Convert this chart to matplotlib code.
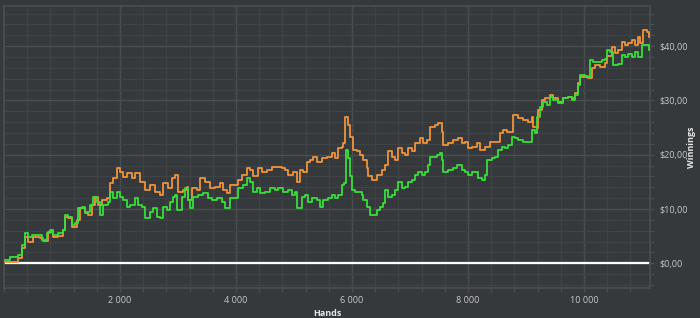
import matplotlib
matplotlib.use("Agg")
import matplotlib.pyplot as plt
from matplotlib.ticker import FixedLocator, FuncFormatter, MultipleLocator

orange_hands = [17, 155, 241, 310, 362, 414, 500, 621, 672, 759, 845, 931, 1017, 1052, 1103, 1172, 1259, 1310, 1397, 1448,
                1517, 1569, 1621, 1690, 1776, 1828, 1879, 1948, 2000, 2052, 2121, 2207, 2259, 2345, 2431, 2517, 2603, 2690,
                2741, 2828, 2897, 2948, 3000, 3086, 3155, 3172, 3241, 3328, 3379, 3466, 3552, 3638, 3724, 3776, 3845, 3897,
                3983, 4034, 4103, 4190, 4241, 4293, 4379, 4448, 4534, 4621, 4707, 4793, 4845, 4897, 4983, 5052, 5103, 5155,
                5224, 5276, 5328, 5397, 5483, 5569, 5655, 5707, 5759, 5828, 5845, 5879, 5931, 5966, 6017, 6086, 6138, 6190,
                6259, 6276, 6345, 6431, 6517, 6569, 6621, 6690, 6741, 6793, 6862, 6914, 6966, 7034, 7086, 7172, 7224, 7293,
                7345, 7431, 7483, 7552, 7569, 7655, 7741, 7828, 7897, 7948, 8000, 8069, 8155, 8207, 8293, 8379, 8500, 8552,
                8603, 8672, 8776, 8862, 8948, 9034, 9103, 9121, 9190, 9207, 9276, 9328, 9414, 9466, 9552, 9638, 9724, 9793,
                9845, 9897, 9931, 10017, 10069, 10138, 10190, 10276, 10362, 10397, 10483, 10534, 10586, 10655, 10707, 10759,
                10828, 10879, 10931, 10966, 11017, 11086, 11121]
orange_won = [0.3, 0.3, 1.0, 2.8, 4.9, 4.0, 4.9, 4.7, 4.1, 5.8, 4.9, 5.0, 6.1, 8.6, 8.3, 6.7, 8.0, 10.2, 9.3, 8.9,
              10.7, 12.3, 10.7, 11.7, 12.0, 14.8, 15.7, 17.5, 16.9, 15.9, 16.6, 15.7, 16.6, 15.0, 13.5, 14.4, 13.2, 12.6,
              14.8, 13.9, 15.7, 16.3, 13.2, 13.5, 14.1, 11.7, 13.9, 13.5, 15.7, 15.0, 13.9, 14.1, 14.8, 13.5, 12.9, 14.4,
              14.4, 15.3, 16.3, 17.5, 17.2, 16.0, 17.5, 16.9, 17.2, 17.8, 17.8, 17.5, 17.2, 16.3, 16.9, 15.0, 17.2, 16.9,
              18.7, 19.0, 19.6, 18.7, 19.4, 19.6, 20.3, 19.4, 21.2, 21.5, 22.1, 27.0, 25.5, 23.3, 20.9, 20.6, 19.9, 19.0,
              17.5, 16.0, 15.3, 16.3, 17.2, 18.1, 20.6, 19.6, 19.0, 21.2, 20.3, 19.9, 21.2, 20.6, 22.1, 23.0, 22.1, 22.7,
              25.1, 25.5, 25.8, 24.2, 21.8, 22.1, 22.7, 23.0, 22.1, 22.4, 21.2, 21.5, 22.1, 20.9, 21.5, 22.4, 22.4, 24.0,
              24.5, 24.2, 27.3, 26.7, 26.4, 26.1, 27.0, 25.2, 24.9, 28.2, 30.1, 30.4, 31.0, 30.4, 29.8, 30.4, 30.7, 30.4,
              31.3, 33.2, 34.4, 34.4, 34.1, 36.0, 36.5, 36.2, 36.9, 38.1, 39.9, 38.7, 39.3, 40.8, 40.2, 40.6,
              41.1, 40.2, 41.7, 40.6, 43.0, 42.6, 41.7]

green_hands = [17, 103, 190, 241, 310, 362, 414, 483, 569, 655, 741, 793, 845, 931, 1017, 1052, 1103, 1172, 1224, 1276,
               1345, 1397, 1483, 1534, 1603, 1655, 1707, 1793, 1828, 1879, 1948, 2000, 2052, 2121, 2172, 2259, 2310, 2379,
               2431, 2517, 2569, 2638, 2690, 2741, 2810, 2862, 2914, 2948, 2983, 3069, 3121, 3172, 3207, 3259, 3345, 3431,
               3517, 3586, 3672, 3759, 3810, 3897, 3983, 4034, 4121, 4190, 4241, 4293, 4362, 4414, 4500, 4586, 4672, 4724,
               4810, 4897, 4966, 5017, 5052, 5138, 5190, 5241, 5310, 5397, 5448, 5500, 5586, 5655, 5707, 5759, 5828, 5862,
               5897, 5931, 5966, 6000, 6052, 6103, 6172, 6190, 6259, 6310, 6362, 6431, 6483, 6534, 6569, 6621, 6690, 6741,
               6793, 6862, 6914, 6966, 7034, 7086, 7138, 7207, 7259, 7310, 7345, 7397, 7466, 7517, 7552, 7569, 7655, 7741,
               7810, 7897, 7948, 8000, 8069, 8121, 8172, 8241, 8293, 8328, 8414, 8466, 8517, 8586, 8638, 8690, 8759, 8810,
               8862, 8948, 9034, 9103, 9155, 9190, 9241, 9293, 9362, 9414, 9466, 9552, 9638, 9724, 9793, 9845, 9897, 9931,
               10017, 10069, 10103, 10155, 10224, 10310, 10362, 10397, 10448, 10500, 10586, 10655, 10707, 10759, 10828,
               10879, 10931, 11000, 11086, 11121]
green_won = [0.6, 1.2, 1.2, 1.5, 3.4, 5.6, 4.9, 5.2, 5.2, 4.3, 5.6, 6.1, 5.2, 5.6, 6.1, 8.9, 8.6, 7.1, 7.4, 10.2,
             10.4, 9.5, 10.7, 12.3, 11.3, 8.9, 10.7, 11.3, 13.2, 12.0, 13.2, 12.3, 11.7, 10.4, 10.7, 12.0, 10.7, 10.4,
             8.3, 9.5, 10.2, 8.6, 8.3, 10.4, 9.8, 11.3, 12.3, 12.6, 9.8, 12.3, 13.9, 11.7, 10.2, 12.3, 12.6, 12.9,
             12.0, 11.7, 12.0, 11.3, 10.2, 12.0, 12.0, 13.9, 14.4, 15.7, 15.0, 13.2, 13.9, 12.9, 13.2, 13.9, 13.5, 13.9,
             13.2, 13.5, 12.6, 13.2, 10.2, 12.3, 12.6, 11.3, 12.0, 11.7, 10.4, 11.7, 12.0, 12.6, 12.0, 12.6, 14.4, 14.8,
             20.9, 19.4, 16.0, 13.5, 13.2, 13.2, 12.6, 11.7, 10.4, 8.9, 8.9, 9.8, 10.4, 11.1, 13.5, 12.3, 12.6, 13.5,
             15.0, 13.9, 14.1, 15.0, 15.3, 16.3, 16.9, 16.3, 16.9, 18.1, 19.6, 19.6, 19.9, 20.3, 19.0, 16.9, 17.2, 17.5,
             18.1, 17.2, 16.9, 16.3, 16.9, 16.9, 15.7, 15.3, 16.3, 19.0, 19.4, 19.6, 20.9, 21.5, 21.2, 21.8, 23.3, 23.1,
             22.7, 22.4, 22.4, 24.5, 24.0, 27.0, 28.8, 29.8, 29.2, 30.7, 30.1, 29.5, 30.4, 30.7, 30.1, 31.0, 32.8, 34.7,
             34.5, 34.4, 37.4, 37.1, 37.1, 37.4, 37.7, 39.3, 39.0, 36.5, 36.8, 38.3, 38.0, 38.6, 38.0,
             39.0, 38.0, 40.2, 40.2, 39.3]

x_ticks = [2000, 4000, 6000, 8000, 10000]
y_ticks = [0, 10, 20, 30, 40]

BG = "#36393c"
MINOR = "#404346"
MAJOR = "#4b4e51"
TXT = "#c8c8c8"

plt.rcParams["font.family"] = ["Open Sans", "DejaVu Sans"]

fig = plt.figure(figsize=(7.0, 3.18), dpi=100, facecolor=BG)
ax = fig.add_axes([4 / 700, 1 - 288 / 318, 646 / 700, 282 / 318], facecolor=BG)

ax.set_xlim(0, 11140)
ax.set_ylim(-4.55, 47.4)

ax.xaxis.set_major_locator(FixedLocator(x_ticks))
ax.xaxis.set_minor_locator(MultipleLocator(400))
ax.yaxis.set_major_locator(FixedLocator(y_ticks))
ax.yaxis.set_minor_locator(MultipleLocator(2))
ax.xaxis.set_major_formatter(FuncFormatter(lambda v, p: f"{int(v):,}".replace(",", " ")))
ax.yaxis.set_major_formatter(FuncFormatter(lambda v, p: f"${v:.2f}".replace(".", ",")))

ax.yaxis.tick_right()
ax.yaxis.set_label_position("right")

ax.grid(which="minor", color=MINOR, lw=1.0)
ax.grid(which="major", color=MAJOR, lw=1.0)
ax.set_axisbelow(True)

ax.tick_params(which="both", colors=MAJOR, labelcolor=TXT, labelsize=6.5, length=3, width=1, direction="out")
ax.tick_params(axis="x", which="both", pad=3)
ax.tick_params(axis="y", which="both", pad=4)

for s in ax.spines.values():
    s.set_color(MAJOR)
    s.set_linewidth(1.2)

ax.axhline(0, color="white", lw=1.6, zorder=2)

ax.plot(orange_hands, orange_won, color="#f0943a", lw=1.3, drawstyle="steps-post", zorder=3)
ax.plot(green_hands, green_won, color="#36e03a", lw=1.3, drawstyle="steps-post", zorder=4)

fig.text(327 / 700, 1 - 313 / 318, "Hands", color="#e6e6e6", fontsize=6.5, fontweight="bold", ha="center", va="center")
fig.text(692 / 700, 1 - 147 / 318, "Winnings", color="#e6e6e6", fontsize=6.5, fontweight="bold", rotation=90,
         ha="center", va="center")

fig.savefig("out.png", dpi=100, facecolor=BG)
